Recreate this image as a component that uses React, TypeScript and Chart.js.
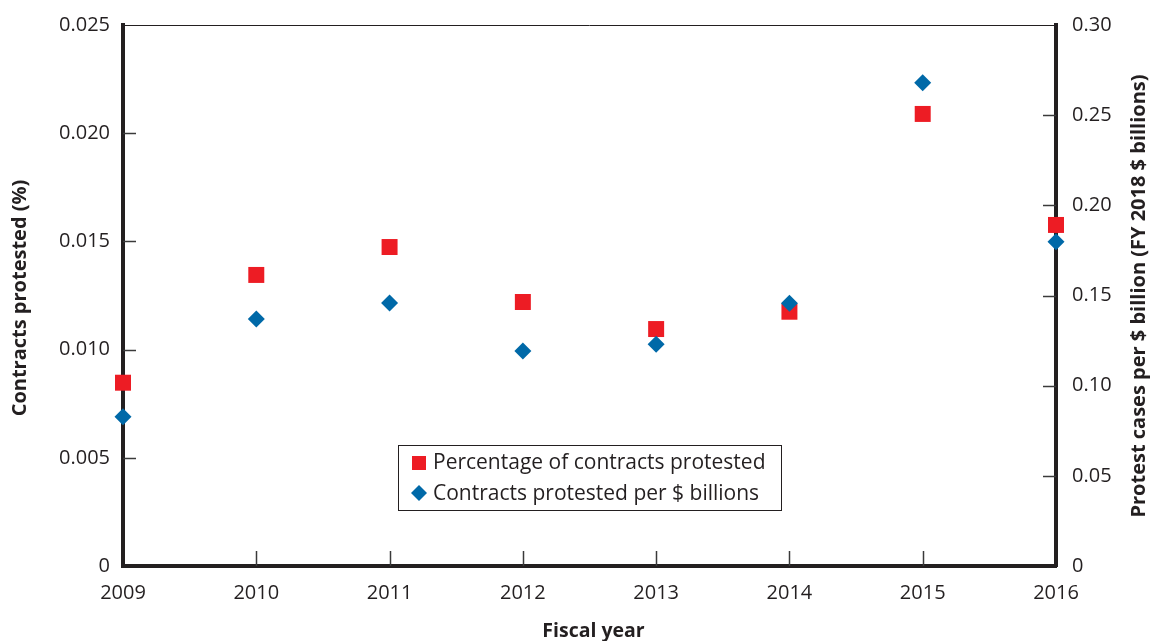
import React, { useEffect, useRef } from 'react';
import { Chart, registerables } from 'chart.js';

Chart.register(...registerables);

const years = ['2009', '2010', '2011', '2012', '2013', '2014', '2015', '2016'];
const pctProtested = [0.00847, 0.01345, 0.01474, 0.0122, 0.01095, 0.01175, 0.02089, 0.01576];
const perBillion = [0.0828, 0.137, 0.1458, 0.1192, 0.1229, 0.1457, 0.268, 0.1798];
const seriesNames = ['Percentage of contracts protested', 'Contracts protested per $ billions'];
const axisTitles = {
  x: 'Fiscal year',
  left: 'Contracts protested (%)',
  right: 'Protest cases per $ billion (FY 2018 $ billions)',
};

const RED = '#ED1C24';
const BLUE = '#0069A8';
const INK = '#231F20';
const FONT = '"Open Sans", "Noto Sans", sans-serif';

const decorPlugin = {
  id: 'decor',
  beforeDatasetsDraw(chart: any) {
    const { ctx, chartArea } = chart;
    const { left, right, top, bottom } = chartArea;
    ctx.save();
    // thin top frame line
    ctx.strokeStyle = INK;
    ctx.lineWidth = 1;
    ctx.beginPath();
    ctx.moveTo(left, Math.round(top) + 0.5);
    ctx.lineTo(right, Math.round(top) + 0.5);
    ctx.stroke();
    // inward ticks
    ctx.strokeStyle = '#3a3a3a';
    ctx.lineWidth = 1.5;
    const xs = chart.scales.x;
    for (let i = 1; i < years.length - 1; i++) {
      const px = Math.round(xs.getPixelForValue(i)) + 0.5;
      ctx.beginPath();
      ctx.moveTo(px, bottom);
      ctx.lineTo(px, bottom - 15);
      ctx.stroke();
    }
    const yl = chart.scales.y;
    yl.ticks.forEach((t: any) => {
      if (t.value <= 0 || t.value >= yl.max - 1e-9) return;
      const py = Math.round(yl.getPixelForValue(t.value)) + 0.5;
      ctx.beginPath();
      ctx.moveTo(left, py);
      ctx.lineTo(left + 13, py);
      ctx.stroke();
    });
    const yr = chart.scales.y1;
    yr.ticks.forEach((t: any) => {
      if (t.value <= 0 || t.value >= yr.max - 1e-9) return;
      const py = Math.round(yr.getPixelForValue(t.value)) + 0.5;
      ctx.beginPath();
      ctx.moveTo(right, py);
      ctx.lineTo(right - 13, py);
      ctx.stroke();
    });
    ctx.restore();
  },
  afterDraw(chart: any) {
    const { ctx, chartArea } = chart;
    const { left, right } = chartArea;
    ctx.save();
    ctx.fillStyle = INK;
    ctx.textAlign = 'center';
    ctx.textBaseline = 'middle';
    // x title
    ctx.font = `bold 19.5px ${FONT}`;
    ctx.fillText(axisTitles.x, (left + right) / 2 + 4, 631);
    ctx.font = `bold 20px ${FONT}`;
    // left title
    ctx.save();
    ctx.translate(20, 298);
    ctx.rotate(-Math.PI / 2);
    ctx.fillText(axisTitles.left, 0, 0);
    ctx.restore();
    // right title
    ctx.save();
    ctx.translate(1139, 296);
    ctx.rotate(-Math.PI / 2);
    ctx.fillText(axisTitles.right, 0, 0);
    ctx.restore();

    // legend box
    const bx = 398.5, by = 445.5, bw = 383, bh = 65;
    ctx.fillStyle = '#ffffff';
    ctx.fillRect(bx, by, bw, bh);
    ctx.strokeStyle = INK;
    ctx.lineWidth = 1;
    ctx.strokeRect(bx, by, bw, bh);
    ctx.font = `21px ${FONT}`;
    ctx.textAlign = 'left';
    ctx.fillStyle = INK;
    ctx.fillText(seriesNames[0], 433, 463);
    ctx.fillText(seriesNames[1], 433, 494);
    ctx.fillStyle = RED;
    ctx.fillRect(412, 456, 14, 14);
    ctx.fillStyle = BLUE;
    ctx.beginPath();
    ctx.moveTo(419, 485);
    ctx.lineTo(427, 493);
    ctx.lineTo(419, 501);
    ctx.lineTo(411, 493);
    ctx.closePath();
    ctx.fill();
    ctx.restore();
  },
};

export default function App() {
  const canvasRef = useRef<HTMLCanvasElement | null>(null);

  useEffect(() => {
    document.body.style.margin = '0';
    const canvas = canvasRef.current;
    if (!canvas) return;
    const tickFont = { family: FONT, size: 20 };
    const chart = new Chart(canvas, {
      type: 'line',
      data: {
        labels: years,
        datasets: [
          {
            label: seriesNames[0],
            data: pctProtested,
            yAxisID: 'y',
            showLine: false,
            pointStyle: 'rect',
            pointRadius: 11.3,
            pointHoverRadius: 11.3,
            pointBackgroundColor: RED,
            pointBorderColor: RED,
            pointBorderWidth: 0,
            backgroundColor: RED,
            borderColor: RED,
            clip: false,
            order: 2,
          },
          {
            label: seriesNames[1],
            data: perBillion,
            yAxisID: 'y1',
            showLine: false,
            pointStyle: 'rectRot',
            pointRadius: 8.5,
            pointHoverRadius: 8.5,
            pointBackgroundColor: BLUE,
            pointBorderColor: BLUE,
            pointBorderWidth: 0,
            backgroundColor: BLUE,
            borderColor: BLUE,
            clip: false,
            order: 1,
          },
        ],
      },
      options: {
        responsive: false,
        animation: false,
        layout: { padding: { top: 25, left: 0, right: 0, bottom: 0 } },
        plugins: {
          legend: { display: false },
          tooltip: { enabled: false },
        },
        scales: {
          x: {
            type: 'category',
            offset: false,
            grid: { display: false },
            border: { display: true, color: INK, width: 4 },
            ticks: {
              font: tickFont,
              color: INK,
              padding: 7,
              maxRotation: 0,
              autoSkip: false,
            },
            afterFit: (s: any) => {
              s.height = 75;
            },
          },
          y: {
            type: 'linear',
            position: 'left',
            min: 0,
            max: 0.025,
            grid: { display: false },
            border: { display: true, color: INK, width: 4 },
            ticks: {
              stepSize: 0.005,
              font: tickFont,
              color: INK,
              padding: 5,
              callback: (v: any) => (Number(v) === 0 ? '0' : Number(v).toFixed(3)),
            },
            afterFit: (s: any) => {
              s.width = 123;
            },
          },
          y1: {
            type: 'linear',
            position: 'right',
            min: 0,
            max: 0.3,
            grid: { display: false },
            border: { display: true, color: INK, width: 4 },
            ticks: {
              stepSize: 0.05,
              font: tickFont,
              color: INK,
              padding: 8,
              callback: (v: any) => (Number(v) === 0 ? '0' : Number(v).toFixed(2)),
            },
            afterFit: (s: any) => {
              s.width = 95;
            },
          },
        },
      },
      plugins: [decorPlugin],
    } as any);
    return () => chart.destroy();
  }, []);

  return (
    <div style={{ width: 1151, height: 641, overflow: 'hidden', background: '#fff' }}>
      <canvas ref={canvasRef} width={1151} height={641} style={{ display: 'block' }} />
    </div>
  );
}
